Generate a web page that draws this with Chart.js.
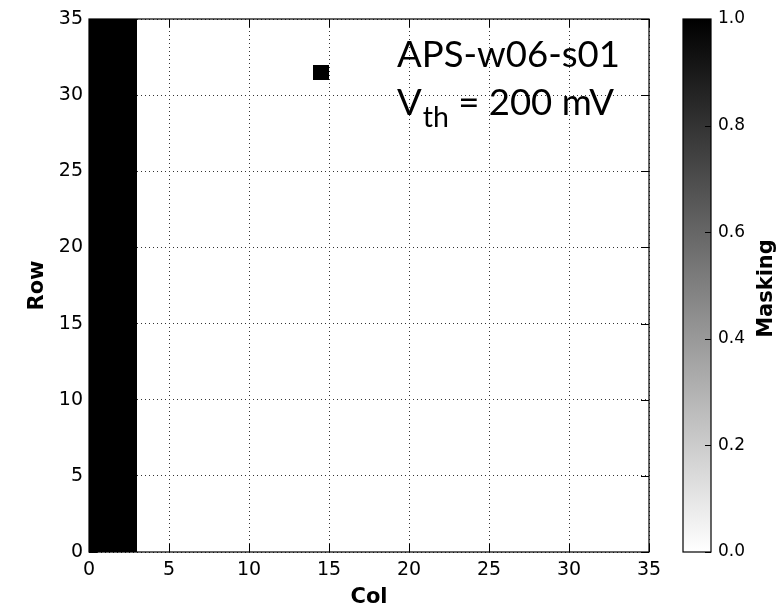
<!DOCTYPE html>
<html>
<head>
<meta charset="utf-8">
<script src="https://cdn.jsdelivr.net/npm/chart.js@4"></script>
<style>
    body { margin: 0; background: #fff; }
    #mapChart { position: absolute; left: 0; top: 0; }
    #barChart { position: absolute; left: 640px; top: 0; }
</style>
</head>
<body>
<canvas id="mapChart" width="779" height="606"></canvas>
<canvas id="barChart" width="139" height="606"></canvas>
<script>
// Pixel matrix size and masked pixels
const nCols = 35;
const nRows = 35;
const maskedCols = [0, 1, 2];
const maskedPixels = [[14, 31]]; // [col, row]

// Tick labels
const xTicks = [0, 5, 10, 15, 20, 25, 30, 35];
const yTicks = [0, 5, 10, 15, 20, 25, 30, 35];
const barTicks = [0, 0.2, 0.4, 0.6, 0.8, 1.0];

// Annotation
const labelLine1 = 'APS-w06-s01';
const labelV = 'V';
const labelSub = 'th';
const labelRest = ' = 200 mV';

// build mask matrix
const mask = [];
for (let r = 0; r < nRows; r++) {
    const row = [];
    for (let c = 0; c < nCols; c++) {
        row.push(maskedCols.includes(c) ? 1 : 0);
    }
    mask.push(row);
}
maskedPixels.forEach(p => { mask[p[1]][p[0]] = 1; });

function grayR(v) {
    const g = Math.round(255 * (1 - v));
    return 'rgb(' + g + ',' + g + ',' + g + ')';
}

const tickFont = { family: 'DejaVu Sans', size: 19 };
const titleFont = { family: 'DejaVu Sans', size: 21, weight: 'bold', lineHeight: 0.8 };

// Cells, frame, inward ticks and annotation
const mapPlugin = {
    id: 'mapPlugin',
    beforeDatasetsDraw(chart) {
        const ctx = chart.ctx;
        const xs = chart.scales.x, ys = chart.scales.y;
        for (let r = 0; r < nRows; r++) {
            for (let c = 0; c < nCols; c++) {
                if (!mask[r][c]) continue;
                const x0 = Math.round(xs.getPixelForValue(c)), x1 = Math.round(xs.getPixelForValue(c + 1));
                const y0 = Math.round(ys.getPixelForValue(r + 1)), y1 = Math.round(ys.getPixelForValue(r));
                ctx.fillStyle = grayR(mask[r][c]);
                ctx.fillRect(x0, y0, x1 - x0, y1 - y0);
            }
        }
    },
    afterDraw(chart) {
        const ctx = chart.ctx;
        const a = chart.chartArea;
        const xs = chart.scales.x, ys = chart.scales.y;
        ctx.save();
        ctx.strokeStyle = '#000';
        ctx.lineWidth = 1.2;
        ctx.strokeRect(a.left, a.top, a.right - a.left, a.bottom - a.top);
        ctx.lineWidth = 1;
        ctx.beginPath();
        xTicks.forEach(v => {
            const x = Math.round(xs.getPixelForValue(v)) + 0.5;
            ctx.moveTo(x, a.bottom); ctx.lineTo(x, a.bottom - 8);
            ctx.moveTo(x, a.top); ctx.lineTo(x, a.top + 8);
        });
        yTicks.forEach(v => {
            const y = Math.round(ys.getPixelForValue(v)) + 0.5;
            ctx.moveTo(a.left, y); ctx.lineTo(a.left + 8, y);
            ctx.moveTo(a.right, y); ctx.lineTo(a.right - 8, y);
        });
        ctx.stroke();

        // annotation text
        ctx.fillStyle = '#000';
        ctx.textBaseline = 'alphabetic';
        ctx.textAlign = 'left';
        let size = 34;
        ctx.font = size + 'px Lato';
        size = size * 223 / ctx.measureText(labelLine1).width;
        ctx.font = size + 'px Lato';
        ctx.fillText(labelLine1, 397, 67);
        let x = 397;
        ctx.fillText(labelV, x, 115);
        x += ctx.measureText(labelV).width;
        const sub = size * 0.78;
        ctx.font = sub + 'px Lato';
        ctx.fillText(labelSub, x + 1, 127);
        x += ctx.measureText(labelSub).width + 1;
        ctx.font = size + 'px Lato';
        ctx.fillText(labelRest, x, 115);
        ctx.restore();
    }
};

const mapChart = new Chart(document.getElementById('mapChart').getContext('2d'), {
    type: 'scatter',
    data: { datasets: [{ data: [], showLine: false }] },
    options: {
        responsive: false,
        animation: false,
        layout: { padding: { left: 0, top: 19, right: 130, bottom: 0 } },
        plugins: { legend: { display: false }, tooltip: { enabled: false } },
        scales: {
            x: {
                type: 'linear', min: 0, max: 35,
                afterBuildTicks: s => { s.ticks = xTicks.map(v => ({ value: v })); },
                ticks: { font: tickFont, color: '#000', padding: 7, maxRotation: 0 },
                grid: { drawTicks: false, color: '#333', lineWidth: 1 },
                border: { display: false, dash: [1, 3] },
                title: { display: true, text: 'Col', font: titleFont, color: '#000', padding: 0 },
                afterFit: s => { s.height = 54; s.paddingLeft = 0; s.paddingRight = 0; }
            },
            y: {
                type: 'linear', min: 0, max: 35,
                afterBuildTicks: s => { s.ticks = yTicks.map(v => ({ value: v })); },
                ticks: { font: tickFont, color: '#000', padding: 6 },
                grid: { drawTicks: false, color: '#333', lineWidth: 1 },
                border: { display: false, dash: [1, 3] },
                title: { display: true, text: 'Row', font: titleFont, color: '#000', padding: { top: 29 } },
                afterFit: s => { s.width = 89; s.paddingTop = 0; s.paddingBottom = 0; }
            }
        }
    },
    plugins: [mapPlugin]
});

// Colour bar
const barPlugin = {
    id: 'barPlugin',
    afterDraw(chart) {
        const ctx = chart.ctx;
        const a = chart.chartArea;
        const ys = chart.scales.y;
        ctx.save();
        ctx.strokeStyle = '#000';
        ctx.lineWidth = 1.2;
        ctx.strokeRect(a.left, a.top, a.right - a.left, a.bottom - a.top);
        ctx.lineWidth = 1;
        ctx.beginPath();
        barTicks.forEach(v => {
            const y = Math.round(ys.getPixelForValue(v)) + 0.5;
            ctx.moveTo(a.right, y); ctx.lineTo(a.right - 6, y);
        });
        ctx.stroke();
        ctx.translate(127, (a.top + a.bottom) / 2 + 3);
        ctx.rotate(-Math.PI / 2);
        ctx.font = 'bold 21px "DejaVu Sans"';
        ctx.textAlign = 'center';
        ctx.textBaseline = 'middle';
        ctx.fillStyle = '#000';
        ctx.fillText('Masking', 0, 0);
        ctx.restore();
    }
};

const barChart = new Chart(document.getElementById('barChart').getContext('2d'), {
    type: 'bar',
    data: {
        labels: [''],
        datasets: [{
            data: [[0, 1]],
            barPercentage: 1,
            categoryPercentage: 1,
            backgroundColor: ctx => {
                const area = ctx.chart.chartArea;
                if (!area) return '#888';
                const g = ctx.chart.ctx.createLinearGradient(0, area.bottom, 0, area.top);
                g.addColorStop(0, '#ffffff');
                g.addColorStop(1, '#000000');
                return g;
            }
        }]
    },
    options: {
        responsive: false,
        animation: false,
        layout: { padding: { left: 43, top: 19, right: 0, bottom: 54 } },
        plugins: { legend: { display: false }, tooltip: { enabled: false } },
        scales: {
            x: { display: false },
            y: {
                position: 'right', min: 0, max: 1,
                afterBuildTicks: s => { s.ticks = barTicks.map(v => ({ value: v })); },
                ticks: { font: { family: 'DejaVu Sans', size: 17 }, color: '#000', padding: 7, callback: v => v.toFixed(1) },
                grid: { display: false, drawTicks: false },
                border: { display: false },
                afterFit: s => { s.width = 68; s.paddingTop = 0; s.paddingBottom = 0; }
            }
        }
    },
    plugins: [barPlugin]
});
</script>
</body>
</html>
